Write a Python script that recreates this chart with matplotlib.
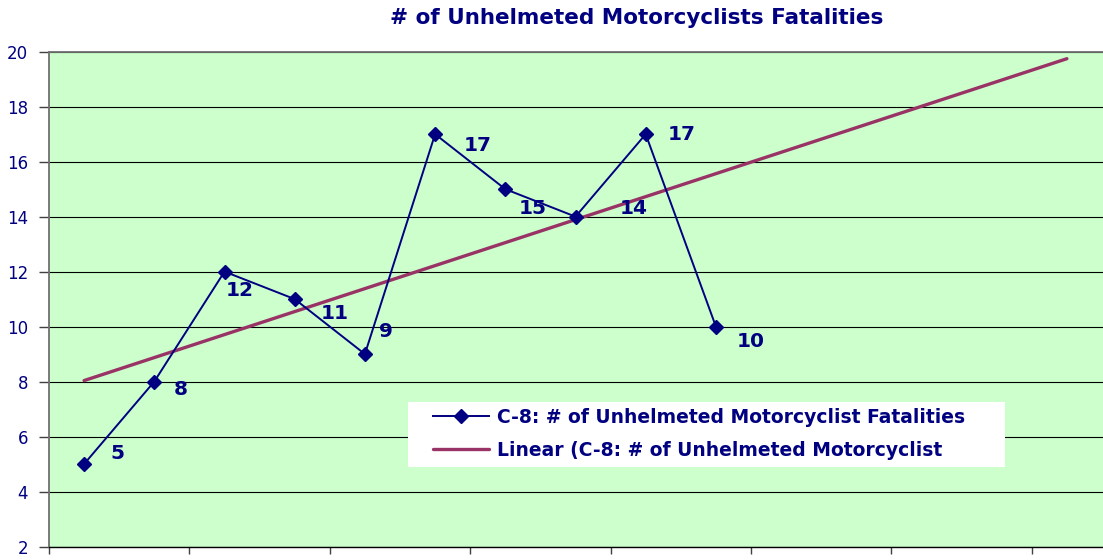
import matplotlib
matplotlib.use("Agg")
import matplotlib.pyplot as plt
from matplotlib.patches import Rectangle
import numpy as np

# ---- data ----
periods = [1, 2, 3, 4, 5, 6, 7, 8, 9, 10]
fatalities = [5, 8, 12, 11, 9, 17, 15, 14, 17, 10]
y_ticks = [2, 4, 6, 8, 10, 12, 14, 16, 18, 20]
title = "# of Unhelmeted Motorcyclists Fatalities"
series_label = "C-8: # of Unhelmeted Motorcyclist Fatalities"
trend_label = "Linear (C-8: # of Unhelmeted Motorcyclist"
forecast_periods = 5

# label offsets in pixels (dx right, dy up) - styling only
label_offsets = [(33, 11), (26, -8), (15, -19), (40, -14), (21, 23),
                 (43, -11), (27, -19), (58, 8), (36, 0), (35, -15)]

NAVY = "#000080"
TREND = "#993366"
BG = "#CCFFCC"
FONT = ["DejaVu Sans"]
plt.rcParams['font.family'] = FONT

W, H = 1103, 560
fig = plt.figure(figsize=(W / 100, H / 100), dpi=100)
px_per_cat = 70.2
left_px, top_px, bottom_px = 49, 51.7, 546.5
ncat = 16
ax = fig.add_axes([left_px / W, (H - bottom_px) / H,
                   ncat * px_per_cat / W, (bottom_px - top_px) / H])
ax.set_facecolor(BG)
ax.set_xlim(0.5, ncat + 0.5)
ax.set_ylim(2, 20)

# grid
ax.set_yticks(y_ticks)
ax.yaxis.grid(True, color="black", linewidth=0.8)
ax.set_axisbelow(True)
ax.set_xticks(np.arange(0.5, ncat + 0.6, 2))
ax.set_xticklabels([])
ax.tick_params(axis="x", direction="out", length=5, width=1, color="#404040")
ax.tick_params(axis="y", direction="out", length=7, width=1, color="#404040",
               labelcolor=NAVY, labelsize=12, pad=8)

for s in ["top", "left"]:
    ax.spines[s].set_color("#707070")
    ax.spines[s].set_linewidth(1.3)
ax.spines["bottom"].set_color("black")
ax.spines["bottom"].set_linewidth(1)
ax.spines["right"].set_visible(False)

# series
ln, = ax.plot(periods, fatalities, color=NAVY, linewidth=1.4, marker="D",
              markersize=7, markerfacecolor=NAVY, markeredgecolor=NAVY,
              label=series_label, zorder=4)

# linear trend with forward forecast
x = np.array(periods, dtype=float)
y = np.array(fatalities, dtype=float)
slope, intercept = np.polyfit(x, y, 1)
xt = np.array([x[0], x[-1] + forecast_periods])
tr, = ax.plot(xt, slope * xt + intercept, color=TREND, linewidth=2.4,
              label=trend_label, zorder=3, solid_capstyle="round")

# data labels
for xi, yi, (dx, dy) in zip(periods, fatalities, label_offsets):
    ax.annotate(str(yi), (xi, yi), xytext=(dx * 0.72, dy * 0.72),
                textcoords="offset points", ha="center", va="center",
                fontsize=14.5, fontweight="bold", color=NAVY, zorder=5)

# title
fig.text(637 / W, 1 - 18.5 / H, title, ha="center", va="center",
         fontsize=15.5, fontweight="bold", color=NAVY)

# legend box + legend
box = Rectangle((408 / W, 1 - 467 / H), 597 / W, 65 / H,
                transform=fig.transFigure, facecolor="white",
                edgecolor="none", zorder=1)
fig.patches.append(box)
leg = fig.legend(handles=[ln, tr], loc="center left",
                 bbox_to_anchor=(433 / W, 1 - 434 / H),
                 bbox_transform=fig.transFigure, frameon=False,
                 handlelength=3.0, handletextpad=0.4, borderpad=0,
                 borderaxespad=0, labelspacing=0.75,
                 prop={"weight": "bold", "size": 13.5})
leg.set_zorder(2)
for t in leg.get_texts():
    t.set_color(NAVY)

fig.savefig("out.png", dpi=100)
